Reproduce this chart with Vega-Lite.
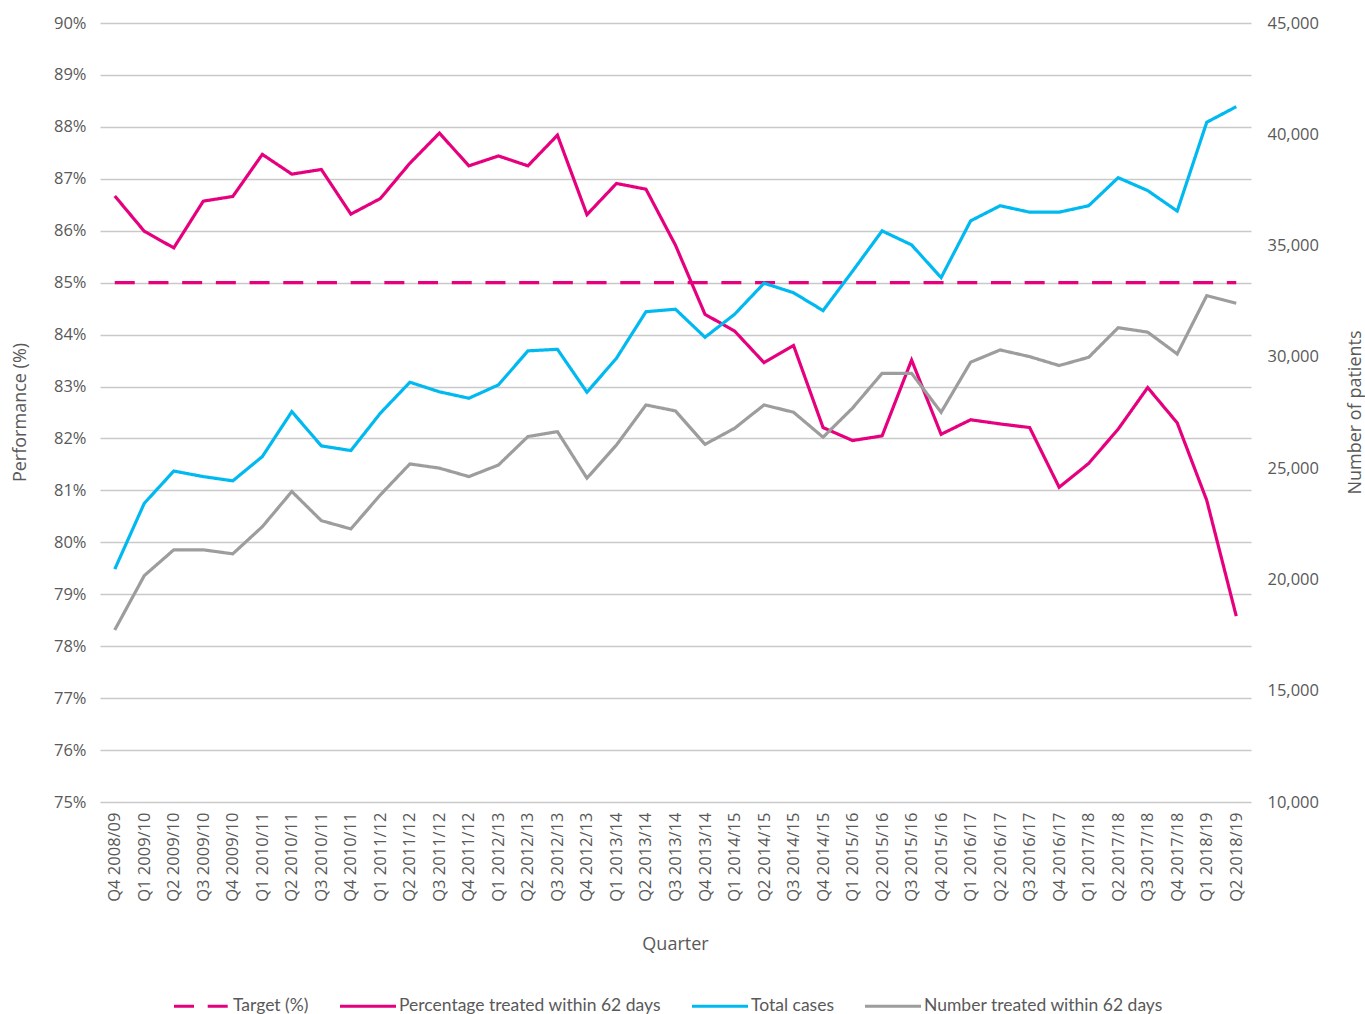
{
"$schema":"https://vega.github.io/schema/vega-lite/v6.json",
"width":1151,"height":779,
"autosize":{"type":"none"},
"padding":{"left":100,"top":23,"right":114,"bottom":212},
"background":"#ffffff",
"config":{"view":{"stroke":null},"font":"Open Sans",
 "axis":{"labelColor":"#595959","titleColor":"#595959","labelFont":"Open Sans","titleFont":"Open Sans","titleFontWeight":"normal","labelFontSize":16.5,"titleFontSize":18,"ticks":false,"domain":false},
 "legend":{"labelFont":"Lato","labelFontSize":17.5,"labelColor":"#595959","labelLimit":0}},
"data":{"values":[
{"q":"Q4 2008/09","s":"Target (%)","v":85},{"q":"Q1 2009/10","s":"Target (%)","v":85},{"q":"Q2 2009/10","s":"Target (%)","v":85},{"q":"Q3 2009/10","s":"Target (%)","v":85},{"q":"Q4 2009/10","s":"Target (%)","v":85},{"q":"Q1 2010/11","s":"Target (%)","v":85},{"q":"Q2 2010/11","s":"Target (%)","v":85},{"q":"Q3 2010/11","s":"Target (%)","v":85},{"q":"Q4 2010/11","s":"Target (%)","v":85},{"q":"Q1 2011/12","s":"Target (%)","v":85},{"q":"Q2 2011/12","s":"Target (%)","v":85},{"q":"Q3 2011/12","s":"Target (%)","v":85},{"q":"Q4 2011/12","s":"Target (%)","v":85},{"q":"Q1 2012/13","s":"Target (%)","v":85},{"q":"Q2 2012/13","s":"Target (%)","v":85},{"q":"Q3 2012/13","s":"Target (%)","v":85},{"q":"Q4 2012/13","s":"Target (%)","v":85},{"q":"Q1 2013/14","s":"Target (%)","v":85},{"q":"Q2 2013/14","s":"Target (%)","v":85},{"q":"Q3 2013/14","s":"Target (%)","v":85},{"q":"Q4 2013/14","s":"Target (%)","v":85},{"q":"Q1 2014/15","s":"Target (%)","v":85},{"q":"Q2 2014/15","s":"Target (%)","v":85},{"q":"Q3 2014/15","s":"Target (%)","v":85},{"q":"Q4 2014/15","s":"Target (%)","v":85},{"q":"Q1 2015/16","s":"Target (%)","v":85},{"q":"Q2 2015/16","s":"Target (%)","v":85},{"q":"Q3 2015/16","s":"Target (%)","v":85},{"q":"Q4 2015/16","s":"Target (%)","v":85},{"q":"Q1 2016/17","s":"Target (%)","v":85},{"q":"Q2 2016/17","s":"Target (%)","v":85},{"q":"Q3 2016/17","s":"Target (%)","v":85},{"q":"Q4 2016/17","s":"Target (%)","v":85},{"q":"Q1 2017/18","s":"Target (%)","v":85},{"q":"Q2 2017/18","s":"Target (%)","v":85},{"q":"Q3 2017/18","s":"Target (%)","v":85},{"q":"Q4 2017/18","s":"Target (%)","v":85},{"q":"Q1 2018/19","s":"Target (%)","v":85},{"q":"Q2 2018/19","s":"Target (%)","v":85},
{"q":"Q4 2008/09","s":"Percentage treated within 62 days","v":86.67},{"q":"Q1 2009/10","s":"Percentage treated within 62 days","v":85.99},{"q":"Q2 2009/10","s":"Percentage treated within 62 days","v":85.67},{"q":"Q3 2009/10","s":"Percentage treated within 62 days","v":86.57},{"q":"Q4 2009/10","s":"Percentage treated within 62 days","v":86.66},{"q":"Q1 2010/11","s":"Percentage treated within 62 days","v":87.47},{"q":"Q2 2010/11","s":"Percentage treated within 62 days","v":87.09},{"q":"Q3 2010/11","s":"Percentage treated within 62 days","v":87.18},{"q":"Q4 2010/11","s":"Percentage treated within 62 days","v":86.32},{"q":"Q1 2011/12","s":"Percentage treated within 62 days","v":86.62},{"q":"Q2 2011/12","s":"Percentage treated within 62 days","v":87.3},{"q":"Q3 2011/12","s":"Percentage treated within 62 days","v":87.88},{"q":"Q4 2011/12","s":"Percentage treated within 62 days","v":87.25},{"q":"Q1 2012/13","s":"Percentage treated within 62 days","v":87.44},{"q":"Q2 2012/13","s":"Percentage treated within 62 days","v":87.25},{"q":"Q3 2012/13","s":"Percentage treated within 62 days","v":87.84},{"q":"Q4 2012/13","s":"Percentage treated within 62 days","v":86.31},{"q":"Q1 2013/14","s":"Percentage treated within 62 days","v":86.91},{"q":"Q2 2013/14","s":"Percentage treated within 62 days","v":86.8},{"q":"Q3 2013/14","s":"Percentage treated within 62 days","v":85.72},{"q":"Q4 2013/14","s":"Percentage treated within 62 days","v":84.39},{"q":"Q1 2014/15","s":"Percentage treated within 62 days","v":84.07},{"q":"Q2 2014/15","s":"Percentage treated within 62 days","v":83.46},{"q":"Q3 2014/15","s":"Percentage treated within 62 days","v":83.79},{"q":"Q4 2014/15","s":"Percentage treated within 62 days","v":82.21},{"q":"Q1 2015/16","s":"Percentage treated within 62 days","v":81.96},{"q":"Q2 2015/16","s":"Percentage treated within 62 days","v":82.05},{"q":"Q3 2015/16","s":"Percentage treated within 62 days","v":83.51},{"q":"Q4 2015/16","s":"Percentage treated within 62 days","v":82.08},{"q":"Q1 2016/17","s":"Percentage treated within 62 days","v":82.36},{"q":"Q2 2016/17","s":"Percentage treated within 62 days","v":82.28},{"q":"Q3 2016/17","s":"Percentage treated within 62 days","v":82.21},{"q":"Q4 2016/17","s":"Percentage treated within 62 days","v":81.06},{"q":"Q1 2017/18","s":"Percentage treated within 62 days","v":81.52},{"q":"Q2 2017/18","s":"Percentage treated within 62 days","v":82.18},{"q":"Q3 2017/18","s":"Percentage treated within 62 days","v":82.98},{"q":"Q4 2017/18","s":"Percentage treated within 62 days","v":82.3},{"q":"Q1 2018/19","s":"Percentage treated within 62 days","v":80.81},{"q":"Q2 2018/19","s":"Percentage treated within 62 days","v":78.58},
{"q":"Q4 2008/09","s":"Total cases","v":20460},{"q":"Q1 2009/10","s":"Total cases","v":23420},{"q":"Q2 2009/10","s":"Total cases","v":24870},{"q":"Q3 2009/10","s":"Total cases","v":24620},{"q":"Q4 2009/10","s":"Total cases","v":24430},{"q":"Q1 2010/11","s":"Total cases","v":25520},{"q":"Q2 2010/11","s":"Total cases","v":27540},{"q":"Q3 2010/11","s":"Total cases","v":26000},{"q":"Q4 2010/11","s":"Total cases","v":25790},{"q":"Q1 2011/12","s":"Total cases","v":27470},{"q":"Q2 2011/12","s":"Total cases","v":28860},{"q":"Q3 2011/12","s":"Total cases","v":28430},{"q":"Q4 2011/12","s":"Total cases","v":28140},{"q":"Q1 2012/13","s":"Total cases","v":28740},{"q":"Q2 2012/13","s":"Total cases","v":30270},{"q":"Q3 2012/13","s":"Total cases","v":30340},{"q":"Q4 2012/13","s":"Total cases","v":28410},{"q":"Q1 2013/14","s":"Total cases","v":29940},{"q":"Q2 2013/14","s":"Total cases","v":32030},{"q":"Q3 2013/14","s":"Total cases","v":32140},{"q":"Q4 2013/14","s":"Total cases","v":30880},{"q":"Q1 2014/15","s":"Total cases","v":31910},{"q":"Q2 2014/15","s":"Total cases","v":33310},{"q":"Q3 2014/15","s":"Total cases","v":32880},{"q":"Q4 2014/15","s":"Total cases","v":32080},{"q":"Q1 2015/16","s":"Total cases","v":33850},{"q":"Q2 2015/16","s":"Total cases","v":35660},{"q":"Q3 2015/16","s":"Total cases","v":35030},{"q":"Q4 2015/16","s":"Total cases","v":33560},{"q":"Q1 2016/17","s":"Total cases","v":36110},{"q":"Q2 2016/17","s":"Total cases","v":36790},{"q":"Q3 2016/17","s":"Total cases","v":36500},{"q":"Q4 2016/17","s":"Total cases","v":36500},{"q":"Q1 2017/18","s":"Total cases","v":36790},{"q":"Q2 2017/18","s":"Total cases","v":38050},{"q":"Q3 2017/18","s":"Total cases","v":37470},{"q":"Q4 2017/18","s":"Total cases","v":36550},{"q":"Q1 2018/19","s":"Total cases","v":40540},{"q":"Q2 2018/19","s":"Total cases","v":41240},
{"q":"Q4 2008/09","s":"Number treated within 62 days","v":17730},{"q":"Q1 2009/10","s":"Number treated within 62 days","v":20170},{"q":"Q2 2009/10","s":"Number treated within 62 days","v":21330},{"q":"Q3 2009/10","s":"Number treated within 62 days","v":21330},{"q":"Q4 2009/10","s":"Number treated within 62 days","v":21150},{"q":"Q1 2010/11","s":"Number treated within 62 days","v":22370},{"q":"Q2 2010/11","s":"Number treated within 62 days","v":23950},{"q":"Q3 2010/11","s":"Number treated within 62 days","v":22640},{"q":"Q4 2010/11","s":"Number treated within 62 days","v":22270},{"q":"Q1 2011/12","s":"Number treated within 62 days","v":23800},{"q":"Q2 2011/12","s":"Number treated within 62 days","v":25190},{"q":"Q3 2011/12","s":"Number treated within 62 days","v":25000},{"q":"Q4 2011/12","s":"Number treated within 62 days","v":24620},{"q":"Q1 2012/13","s":"Number treated within 62 days","v":25140},{"q":"Q2 2012/13","s":"Number treated within 62 days","v":26420},{"q":"Q3 2012/13","s":"Number treated within 62 days","v":26640},{"q":"Q4 2012/13","s":"Number treated within 62 days","v":24550},{"q":"Q1 2013/14","s":"Number treated within 62 days","v":26040},{"q":"Q2 2013/14","s":"Number treated within 62 days","v":27840},{"q":"Q3 2013/14","s":"Number treated within 62 days","v":27570},{"q":"Q4 2013/14","s":"Number treated within 62 days","v":26070},{"q":"Q1 2014/15","s":"Number treated within 62 days","v":26790},{"q":"Q2 2014/15","s":"Number treated within 62 days","v":27840},{"q":"Q3 2014/15","s":"Number treated within 62 days","v":27510},{"q":"Q4 2014/15","s":"Number treated within 62 days","v":26390},{"q":"Q1 2015/16","s":"Number treated within 62 days","v":27700},{"q":"Q2 2015/16","s":"Number treated within 62 days","v":29260},{"q":"Q3 2015/16","s":"Number treated within 62 days","v":29260},{"q":"Q4 2015/16","s":"Number treated within 62 days","v":27510},{"q":"Q1 2016/17","s":"Number treated within 62 days","v":29760},{"q":"Q2 2016/17","s":"Number treated within 62 days","v":30310},{"q":"Q3 2016/17","s":"Number treated within 62 days","v":30010},{"q":"Q4 2016/17","s":"Number treated within 62 days","v":29610},{"q":"Q1 2017/18","s":"Number treated within 62 days","v":29980},{"q":"Q2 2017/18","s":"Number treated within 62 days","v":31310},{"q":"Q3 2017/18","s":"Number treated within 62 days","v":31110},{"q":"Q4 2017/18","s":"Number treated within 62 days","v":30130},{"q":"Q1 2018/19","s":"Number treated within 62 days","v":32750},{"q":"Q2 2018/19","s":"Number treated within 62 days","v":32410}
]},
"encoding":{
 "x":{"field":"q","type":"ordinal","sort":null,"scale":{"type":"point","padding":0.5},
  "axis":{"labelAngle":-90,"labelPadding":10,"title":"Quarter","titleX":575,"titleY":142,"titleBaseline":"middle","grid":false}},
 "color":{"field":"s","type":"nominal","sort":null,
  "scale":{"domain":["Target (%)","Percentage treated within 62 days","Total cases","Number treated within 62 days"],"range":["#E6007E","#E6007E","#00B9F0","#9D9D9D"]},
  "legend":{"title":null,"orient":"none","legendX":72,"legendY":953,"direction":"horizontal","columns":4,"symbolType":"stroke","symbolSize":3136,"symbolStrokeWidth":3.2,"labelOffset":1,"columnPadding":24,"labelLimit":0}},
 "strokeDash":{"field":"s","type":"nominal","sort":null,
  "scale":{"domain":["Target (%)","Percentage treated within 62 days","Total cases","Number treated within 62 days"],"range":[[20,13.7],[1,0],[1,0],[1,0]]},
  "legend":{"title":null,"orient":"none","legendX":72,"legendY":953,"direction":"horizontal","columns":4,"symbolType":"stroke","symbolSize":3136,"symbolStrokeWidth":3.2,"labelOffset":1,"columnPadding":24,"labelLimit":0}}
},
"layer":[
 {"transform":[{"filter":{"field":"s","oneOf":["Target (%)","Percentage treated within 62 days"]}}],
  "mark":{"type":"line","strokeWidth":3.2},
  "encoding":{"y":{"field":"v","type":"quantitative","scale":{"domain":[75,90],"nice":false,"zero":false},
   "axis":{"orient":"left","values":[75,76,77,78,79,80,81,82,83,84,85,86,87,88,89,90],"labelExpr":"datum.value + '%'","grid":true,"gridColor":"#C9C9C9","gridWidth":1.3,"labelPadding":14,"title":"Performance (%)","titleX":-80,"titleY":389,"titleAngle":-90,"titleBaseline":"middle","titleAlign":"center"}}}},
 {"transform":[{"filter":{"field":"s","oneOf":["Total cases","Number treated within 62 days"]}}],
  "mark":{"type":"line","strokeWidth":3.2},
  "encoding":{"y":{"field":"v","type":"quantitative","scale":{"domain":[10000,45000],"nice":false,"zero":false},
   "axis":{"orient":"right","values":[10000,15000,20000,25000,30000,35000,40000,45000],"labelExpr":"format(datum.value, ',.0f')","grid":false,"labelPadding":16,"title":"Number of patients","titleX":104,"titleY":389,"titleAngle":-90,"titleBaseline":"middle","titleAlign":"center"}}}}
],
"resolve":{"scale":{"y":"independent"}}
}
